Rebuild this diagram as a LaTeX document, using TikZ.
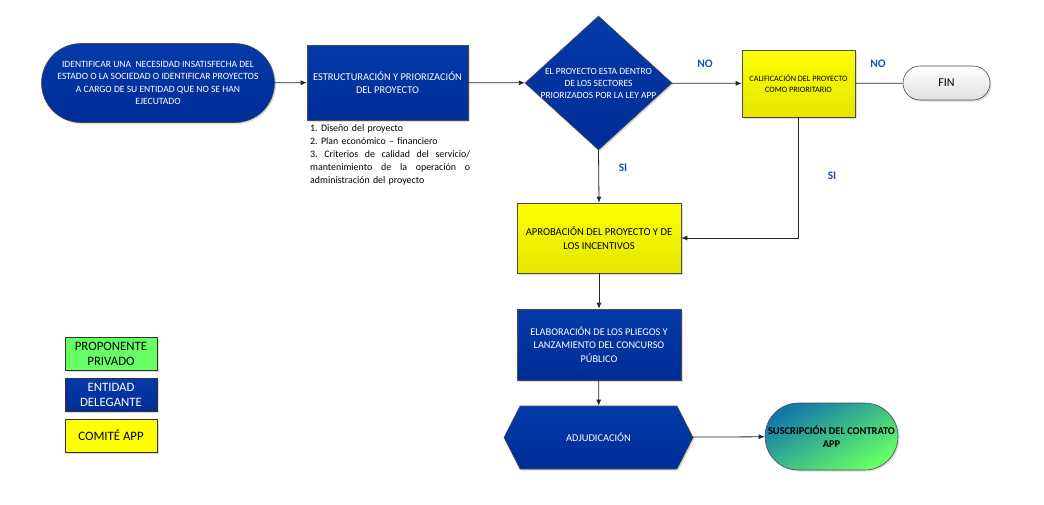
\documentclass[tikz,border=0pt]{standalone}
\usepackage{fontspec}
\setmainfont{Carlito}
\usetikzlibrary{arrows.meta,shapes.geometric,shapes.symbols,shapes.misc,shadows}
\definecolor{dblue}{RGB}{4,58,168}
\definecolor{dblue2}{RGB}{0,45,150}
\definecolor{ylw}{RGB}{255,255,0}
\definecolor{ylw2}{RGB}{230,230,0}
\definecolor{grn}{RGB}{102,255,102}
\definecolor{teal1}{RGB}{20,120,170}
\definecolor{tealmid}{RGB}{92,242,108}
\definecolor{lblue}{RGB}{31,78,170}
\newcommand{\fullline}[1]{\leavevmode\hbox to 160pt{#1}}
\tikzset{
  shd/.style={drop shadow={opacity=0.3,shadow xshift=1.5pt,shadow yshift=-1.5pt}},
  bluebox/.style={draw=black!70,line width=0.6pt,top color=dblue,bottom color=dblue2,text=white,align=center,shd},
  ylwbox/.style={draw=black!70,line width=0.6pt,top color=ylw,bottom color=ylw2,text=black,align=center,shd},
  arr/.style={draw=black!85,line width=0.8pt,-{Latex[length=6pt,width=5pt]}},
  ln/.style={draw=black!85,line width=0.8pt},
  lab/.style={text=lblue,font=\fontsize{11.5}{13}\selectfont\bfseries},
  legbox/.style={draw=black!80,line width=0.6pt,minimum width=92pt,minimum height=33pt,align=center,font=\fontsize{12.8}{15}\selectfont,inner sep=0pt,shd},
}
\begin{document}
\begin{tikzpicture}[x=1pt,y=-1pt]
\useasboundingbox (0,0) rectangle (1044,504);
% start
\node[bluebox,rounded rectangle,minimum width=233pt,minimum height=79pt,inner sep=0pt,font=\fontsize{9.6}{12.5}\selectfont] (start) at (158,83)
  {IDENTIFICAR UNA \ NECESIDAD INSATISFECHA DEL\\ESTADO O LA SOCIEDAD O IDENTIFICAR PROYECTOS\\A CARGO DE SU ENTIDAD QUE NO SE HAN\\EJECUTADO};
% estructuracion
\node[bluebox,rectangle,minimum width=161pt,minimum height=75pt,inner sep=0pt,font=\fontsize{10.4}{13}\selectfont] (est) at (387.5,82.5)
  {ESTRUCTURACIÓN Y PRIORIZACIÓN\\DEL PROYECTO};
\node[anchor=north west,text width=160pt,inner sep=0pt,align=left,font=\fontsize{9.9}{13}\selectfont\frenchspacing] (notes) at (310,124)
  {1. Diseño del proyecto\\2. Plan económico – financiero\\
   \fullline{3.\hfill Criterios\hfill de\hfill calidad\hfill del\hfill servicio/}\\
   \fullline{mantenimiento\hfill de\hfill la\hfill operación\hfill o}\\
   administración del proyecto};
% diamond
\node[bluebox,diamond,minimum width=147pt,minimum height=134pt,inner sep=0pt,
  label={[text=white,align=center,font=\fontsize{9.5}{12}\selectfont]center:EL PROYECTO ESTA DENTRO\\DE LOS SECTORES\\PRIORIZADOS POR LA LEY APP}] (dia) at (598.5,83) {};
% calificacion
\node[ylwbox,rectangle,minimum width=113pt,minimum height=67pt,inner sep=0pt,font=\fontsize{8.2}{11}\selectfont] (cal) at (798.5,83.5)
  {CALIFICACIÓN DEL PROYECTO\\COMO PRIORITARIO};
% fin
\node[rounded rectangle,draw=black!70,line width=0.6pt,top color=white,bottom color=black!12,minimum width=87pt,minimum height=34pt,inner sep=0pt,font=\fontsize{12}{14}\selectfont,shd] (fin) at (946.5,83) {FIN};
% aprobacion
\node[ylwbox,rectangle,minimum width=164pt,minimum height=70pt,inner sep=0pt,font=\fontsize{10.6}{14}\selectfont] (apr) at (599,238)
  {APROBACIÓN DEL PROYECTO Y DE\\LOS INCENTIVOS};
% elaboracion
\node[bluebox,rectangle,minimum width=164pt,minimum height=71pt,inner sep=0pt,font=\fontsize{10.3}{13.5}\selectfont] (ela) at (599,344.5)
  {ELABORACIÓN DE LOS PLIEGOS Y\\LANZAMIENTO DEL CONCURSO\\PÚBLICO};
% adjudicacion
\node[bluebox,signal,signal to=west and east,signal pointer angle=126,minimum width=189pt,minimum height=63pt,inner sep=0pt,font=\fontsize{10.4}{13}\selectfont] (adj) at (598.5,437.5)
  {ADJUDICACIÓN};
% suscripcion
\node[rounded rectangle,draw=black!70,line width=0.6pt,top color=teal1,middle color=tealmid,bottom color=grn,shading angle=30,minimum width=133pt,minimum height=67pt,inner sep=0pt,align=center,font=\fontsize{10.4}{13.5}\selectfont\bfseries,shd] (sus) at (831.5,436.5)
  {SUSCRIPCIÓN DEL CONTRATO\\APP};
% connectors
\draw[arr] (start) -- (est);
\draw[arr] (est) -- (dia);
\draw[arr] (dia) -- (cal);
\draw[ln] (cal) -- (fin);
\draw[arr] (dia.south) -- (apr.north);
\draw[arr] (cal.south) |- (apr.east);
\draw[arr] (apr) -- (ela);
\draw[arr] (ela) -- (adj);
\draw[arr] (adj) -- (sus);
% labels
\node[lab] (no1) at (705,64) {NO};
\node[lab] (no2) at (878,64) {NO};
\node[lab] (si1) at (623,168) {SI};
\node[lab] (si2) at (832,176) {SI};
% legend
\node[legbox,fill=grn] (lg1) at (111,353.5) {PROPONENTE\\PRIVADO};
\node[legbox,top color=dblue,bottom color=dblue2,text=white] (lg2) at (111,394.5) {ENTIDAD\\DELEGANTE};
\node[legbox,fill=ylw] (lg3) at (111,435.5) {COMITÉ APP};
\end{tikzpicture}
\end{document}
